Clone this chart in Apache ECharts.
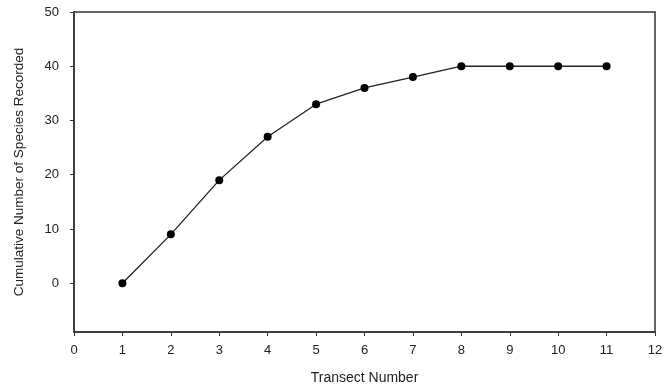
<!DOCTYPE html>
<html><head><meta charset="utf-8">
<script src="https://cdn.jsdelivr.net/npm/echarts@6/dist/echarts.min.js"></script>
<style>html,body{margin:0;padding:0;background:#fff}#c{width:664px;height:388px}</style>
</head><body><div id="c"></div>
<script>
var transects = [1,2,3,4,5,6,7,8,9,10,11];
var cumulative = [0,9,19,27,33,36,38,40,40,40,40];
var yTicks = [0,10,20,30,40,50];
var xTicks = [0,1,2,3,4,5,6,7,8,9,10,11,12];

var chart = echarts.init(document.getElementById('c'));
var font = 'Liberation Sans, Arial, sans-serif';
var axisColor = '#333';
chart.setOption({
  animation:false,
  grid:{left:74,right:9,top:12,bottom:56,show:true,borderColor:axisColor,borderWidth:1.5,
    containLabel:false,outerBoundsMode:'none'},
  xAxis:{type:'value',min:0,max:12,interval:1,
    name:'Transect Number',nameLocation:'middle',nameGap:39,
    nameTextStyle:{fontFamily:font,fontSize:14,color:'#222'},
    axisLine:{show:true,onZero:false,lineStyle:{color:axisColor,width:1.5}},
    axisTick:{show:true,length:4,inside:false,lineStyle:{color:axisColor}},
    axisLabel:{fontFamily:font,fontSize:13,color:'#222',margin:12},
    splitLine:{show:false}},
  yAxis:{type:'value',min:-9,max:50,
    name:'Cumulative Number of Species Recorded',nameLocation:'middle',nameGap:48,
    nameTextStyle:{fontFamily:font,fontSize:13.5,color:'#222'},
    axisLine:{show:true,onZero:false,lineStyle:{color:axisColor,width:1.5}},
    axisTick:{show:true,length:4,customValues:yTicks,lineStyle:{color:axisColor}},
    axisLabel:{fontFamily:font,fontSize:13,color:'#222',margin:15,customValues:yTicks},
    splitLine:{show:false}},
  series:[{type:'line',data:transects.map(function(t,i){return [t,cumulative[i]];}),
    symbol:'circle',symbolSize:8,
    lineStyle:{color:'#222',width:1.3},
    itemStyle:{color:'#000'}}]
});
</script></body></html>
